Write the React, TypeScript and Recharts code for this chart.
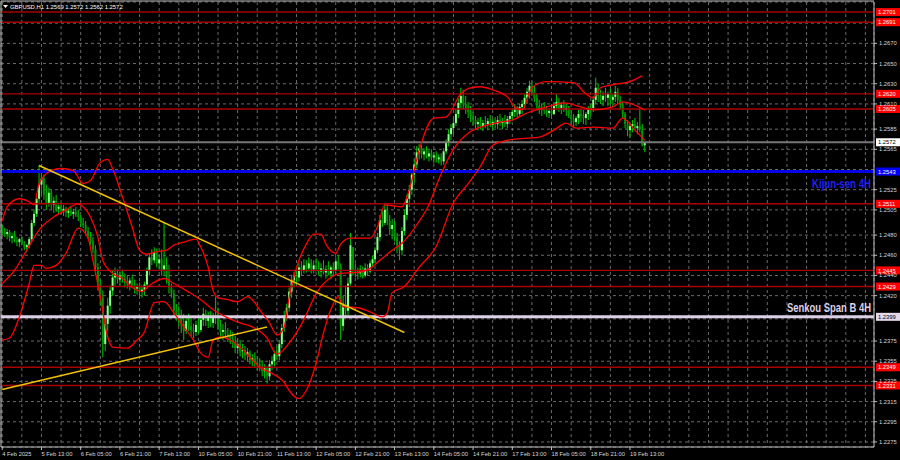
import { ComposedChart, Bar, Line, XAxis, YAxis, CartesianGrid, ReferenceLine } from 'recharts';

// GBPUSD H1, 4 Feb 21:00 .. 19 Feb 19:00, one slot per hour, empty slots on the right
const SLOTS = 356;
const FIRST_OPEN = 1.2488;

const closes = [
  1.2484, 1.2481, 1.2483,
  1.2477, 1.2479, 1.2475, 1.2473, 1.2476, 1.2471, 1.2468, 1.2470, 1.2476, 1.2492, 1.2501, 1.2516, 1.2530, 1.2536, 1.2520, 1.2512, 1.2522, 1.2510, 1.2514, 1.2506, 1.2508, 1.2504, 1.2506, 1.2502,
  1.2504, 1.2501, 1.2503, 1.2500, 1.2498, 1.2492, 1.2490, 1.2484, 1.2479, 1.2474, 1.2466, 1.2448, 1.2432, 1.2418, 1.2372, 1.2392, 1.2410, 1.2425, 1.2438, 1.2442, 1.2436, 1.2440, 1.2437, 1.2434,
  1.2432, 1.2435, 1.2430, 1.2427, 1.2429, 1.2424, 1.2426, 1.2431, 1.2445, 1.2458, 1.2455, 1.2463, 1.2452, 1.2456, 1.2446, 1.2450, 1.2436, 1.2428, 1.2422, 1.2405, 1.2402, 1.2398, 1.2392, 1.2385,
  1.2395, 1.2390, 1.2386, 1.2384, 1.2391, 1.2386, 1.2396, 1.2402, 1.2395, 1.2400, 1.2393, 1.2398, 1.2400, 1.2390, 1.2384, 1.2386, 1.2382, 1.2380, 1.2377, 1.2374, 1.2368, 1.2372, 1.2365, 1.2366,
  1.2361, 1.2364, 1.2356, 1.2358, 1.2354, 1.2352, 1.2350, 1.2345, 1.2348, 1.2340, 1.2352, 1.2355, 1.2362, 1.2360, 1.2372, 1.2388, 1.2400, 1.2408, 1.2424, 1.2435, 1.2440, 1.2438, 1.2448, 1.2445,
  1.2450, 1.2447, 1.2452, 1.2446, 1.2450, 1.2448, 1.2444, 1.2447, 1.2443, 1.2446, 1.2442, 1.2448, 1.2445, 1.2454, 1.2450, 1.2390, 1.2412, 1.2405, 1.2432, 1.2470, 1.2446, 1.2444, 1.2442, 1.2446,
  1.2440, 1.2447, 1.2444, 1.2452, 1.2456, 1.2465, 1.2478, 1.2495, 1.2492, 1.2505, 1.2494, 1.2486, 1.2490, 1.2478, 1.2470, 1.2465, 1.2484, 1.2500, 1.2516, 1.2525, 1.2540, 1.2550, 1.2562, 1.2566,
  1.2560, 1.2563, 1.2558, 1.2561, 1.2557, 1.2559, 1.2555, 1.2557, 1.2553, 1.2563, 1.2572, 1.2580, 1.2586, 1.2591, 1.2600, 1.2611, 1.2618, 1.2610, 1.2606, 1.2602, 1.2598, 1.2594, 1.2590, 1.2592,
  1.2588, 1.2591, 1.2590, 1.2593, 1.2589, 1.2592, 1.2590, 1.2594, 1.2591, 1.2593, 1.2590, 1.2595, 1.2598, 1.2602, 1.2606, 1.2600, 1.2607, 1.2610, 1.2616, 1.2622, 1.2628, 1.2622, 1.2616, 1.2608,
  1.2604, 1.2606, 1.2603, 1.2601, 1.2603, 1.2600, 1.2608, 1.2612, 1.2606, 1.2609, 1.2604, 1.2606, 1.2599, 1.2595, 1.2592, 1.2596, 1.2600, 1.2598, 1.2596, 1.2600, 1.2604, 1.2606, 1.2614, 1.2626,
  1.2618, 1.2614, 1.2618, 1.2616, 1.2620, 1.2614, 1.2617, 1.2622, 1.2614, 1.2610, 1.2600, 1.2590, 1.2584, 1.2588, 1.2590, 1.2586, 1.2588, 1.2585, 1.2569, 1.2572,
];

const highs = [
  1.2490, 1.2487, 1.2486,
  1.2485, 1.2482, 1.2484, 1.2478, 1.2477, 1.2478, 1.2474, 1.2471, 1.2478, 1.2495, 1.2505, 1.2520, 1.2549, 1.2542, 1.2540, 1.2530, 1.2527, 1.2525, 1.2518, 1.2520, 1.2512, 1.2512, 1.2510, 1.2508,
  1.2507, 1.2509, 1.2506, 1.2508, 1.2505, 1.2500, 1.2497, 1.2494, 1.2488, 1.2483, 1.2478, 1.2470, 1.2452, 1.2436, 1.2425, 1.2400, 1.2418, 1.2430, 1.2445, 1.2448, 1.2446, 1.2444, 1.2446, 1.2442,
  1.2440, 1.2438, 1.2441, 1.2436, 1.2432, 1.2433, 1.2430, 1.2434, 1.2448, 1.2462, 1.2466, 1.2468, 1.2467, 1.2460, 1.2466, 1.2492, 1.2458, 1.2450, 1.2432, 1.2426, 1.2412, 1.2410, 1.2406, 1.2402,
  1.2398, 1.2402, 1.2398, 1.2392, 1.2395, 1.2398, 1.2400, 1.2408, 1.2406, 1.2404, 1.2405, 1.2403, 1.2419, 1.2408, 1.2396, 1.2392, 1.2394, 1.2388, 1.2386, 1.2384, 1.2380, 1.2378, 1.2376, 1.2372,
  1.2370, 1.2368, 1.2366, 1.2362, 1.2364, 1.2360, 1.2358, 1.2356, 1.2352, 1.2350, 1.2356, 1.2360, 1.2366, 1.2370, 1.2376, 1.2392, 1.2405, 1.2412, 1.2428, 1.2440, 1.2444, 1.2446, 1.2452, 1.2454,
  1.2456, 1.2455, 1.2458, 1.2456, 1.2455, 1.2457, 1.2454, 1.2452, 1.2455, 1.2450, 1.2454, 1.2450, 1.2453, 1.2458, 1.2460, 1.2452, 1.2420, 1.2430, 1.2438, 1.2482, 1.2468, 1.2452, 1.2448, 1.2450,
  1.2449, 1.2452, 1.2451, 1.2455, 1.2460, 1.2468, 1.2482, 1.2500, 1.2506, 1.2512, 1.2512, 1.2500, 1.2496, 1.2494, 1.2482, 1.2474, 1.2488, 1.2505, 1.2520, 1.2530, 1.2545, 1.2555, 1.2568, 1.2570,
  1.2569, 1.2566, 1.2568, 1.2564, 1.2565, 1.2562, 1.2563, 1.2560, 1.2561, 1.2566, 1.2575, 1.2585, 1.2590, 1.2596, 1.2605, 1.2615, 1.2626, 1.2624, 1.2618, 1.2612, 1.2608, 1.2602, 1.2598, 1.2596,
  1.2597, 1.2594, 1.2598, 1.2596, 1.2599, 1.2595, 1.2597, 1.2598, 1.2600, 1.2596, 1.2599, 1.2598, 1.2602, 1.2606, 1.2610, 1.2608, 1.2610, 1.2614, 1.2620, 1.2626, 1.2633, 1.2632, 1.2628, 1.2620,
  1.2614, 1.2610, 1.2612, 1.2608, 1.2606, 1.2609, 1.2612, 1.2620, 1.2616, 1.2612, 1.2614, 1.2610, 1.2608, 1.2604, 1.2600, 1.2598, 1.2604, 1.2606, 1.2604, 1.2602, 1.2608, 1.2610, 1.2618, 1.2636,
  1.2630, 1.2624, 1.2622, 1.2626, 1.2622, 1.2625, 1.2620, 1.2628, 1.2626, 1.2618, 1.2612, 1.2602, 1.2594, 1.2590, 1.2594, 1.2596, 1.2592, 1.2606, 1.2590, 1.2572,
];

const lows = [
  1.2480, 1.2478, 1.2476,
  1.2474, 1.2472, 1.2473, 1.2469, 1.2468, 1.2470, 1.2465, 1.2463, 1.2467, 1.2474, 1.2489, 1.2498, 1.2512, 1.2520, 1.2515, 1.2505, 1.2508, 1.2505, 1.2502, 1.2503, 1.2500, 1.2501, 1.2499, 1.2498,
  1.2497, 1.2499, 1.2496, 1.2498, 1.2494, 1.2488, 1.2487, 1.2480, 1.2476, 1.2470, 1.2462, 1.2440, 1.2425, 1.2410, 1.2359, 1.2365, 1.2385, 1.2402, 1.2420, 1.2430, 1.2432, 1.2430, 1.2433, 1.2428,
  1.2427, 1.2425, 1.2428, 1.2422, 1.2421, 1.2420, 1.2418, 1.2420, 1.2428, 1.2440, 1.2450, 1.2452, 1.2448, 1.2446, 1.2440, 1.2440, 1.2432, 1.2422, 1.2418, 1.2400, 1.2395, 1.2390, 1.2383, 1.2376,
  1.2382, 1.2385, 1.2380, 1.2378, 1.2380, 1.2382, 1.2384, 1.2390, 1.2390, 1.2388, 1.2389, 1.2388, 1.2392, 1.2386, 1.2378, 1.2376, 1.2378, 1.2374, 1.2372, 1.2368, 1.2363, 1.2362, 1.2360, 1.2358,
  1.2356, 1.2355, 1.2352, 1.2350, 1.2349, 1.2346, 1.2345, 1.2340, 1.2338, 1.2333, 1.2336, 1.2346, 1.2350, 1.2356, 1.2356, 1.2368, 1.2384, 1.2395, 1.2404, 1.2418, 1.2428, 1.2432, 1.2434, 1.2440,
  1.2442, 1.2443, 1.2444, 1.2442, 1.2442, 1.2444, 1.2440, 1.2438, 1.2441, 1.2437, 1.2440, 1.2436, 1.2440, 1.2442, 1.2446, 1.2376, 1.2385, 1.2398, 1.2400, 1.2430, 1.2440, 1.2438, 1.2436, 1.2438,
  1.2437, 1.2438, 1.2440, 1.2442, 1.2448, 1.2452, 1.2462, 1.2474, 1.2488, 1.2490, 1.2490, 1.2480, 1.2476, 1.2474, 1.2462, 1.2455, 1.2460, 1.2480, 1.2495, 1.2508, 1.2520, 1.2532, 1.2546, 1.2555,
  1.2556, 1.2554, 1.2556, 1.2553, 1.2554, 1.2551, 1.2552, 1.2551, 1.2549, 1.2550, 1.2560, 1.2568, 1.2574, 1.2580, 1.2588, 1.2596, 1.2605, 1.2605, 1.2600, 1.2596, 1.2592, 1.2588, 1.2585, 1.2584,
  1.2585, 1.2583, 1.2586, 1.2584, 1.2587, 1.2584, 1.2586, 1.2585, 1.2588, 1.2585, 1.2587, 1.2586, 1.2590, 1.2593, 1.2597, 1.2596, 1.2598, 1.2600, 1.2605, 1.2610, 1.2615, 1.2618, 1.2612, 1.2605,
  1.2600, 1.2598, 1.2600, 1.2597, 1.2596, 1.2598, 1.2599, 1.2604, 1.2602, 1.2600, 1.2602, 1.2598, 1.2596, 1.2590, 1.2587, 1.2588, 1.2590, 1.2592, 1.2590, 1.2589, 1.2594, 1.2598, 1.2602, 1.2610,
  1.2612, 1.2610, 1.2608, 1.2612, 1.2608, 1.2610, 1.2607, 1.2612, 1.2610, 1.2604, 1.2596, 1.2586, 1.2578, 1.2576, 1.2582, 1.2584, 1.2580, 1.2582, 1.2568, 1.2562,
];

// Bollinger bands, read at sparse bars
const upperBars = [0, 2, 7, 11, 13, 15, 20, 24, 29, 33, 36, 40, 43, 45, 49, 53, 56, 59, 62, 67, 70, 74, 79, 81, 84, 86, 88, 92, 96, 100, 102, 105, 109, 112, 115, 117, 121, 124, 127, 130, 132, 136, 138, 142, 150, 153, 156, 163, 166, 170, 176, 181, 187, 191, 195, 200, 206, 209, 212, 216, 222, 233, 238, 241, 244, 249, 256, 261];
const upperBand = [1.2494, 1.2508, 1.2516, 1.2513, 1.2510, 1.2531, 1.2544, 1.2546, 1.2544, 1.2531, 1.2534, 1.2552, 1.2555, 1.2546, 1.2518, 1.2488, 1.2465, 1.2461, 1.2463, 1.2465, 1.2470, 1.2473, 1.2476, 1.2468, 1.2448, 1.2425, 1.2418, 1.2416, 1.2414, 1.2419, 1.2416, 1.2406, 1.2393, 1.2381, 1.2389, 1.2418, 1.2455, 1.2471, 1.2481, 1.2481, 1.2471, 1.2462, 1.2471, 1.2477, 1.2477, 1.2488, 1.2510, 1.2508, 1.2525, 1.2564, 1.2596, 1.2597, 1.2620, 1.2626, 1.2627, 1.2624, 1.2617, 1.2607, 1.2604, 1.2626, 1.2632, 1.2631, 1.2620, 1.2616, 1.2626, 1.2629, 1.2632, 1.2638];

const middleBars = [0, 5, 10, 15, 21, 26, 31, 33, 36, 39, 41, 45, 49, 53, 57, 60, 66, 70, 75, 81, 86, 92, 97, 102, 108, 112, 117, 123, 128, 134, 138, 145, 150, 154, 159, 163, 169, 174, 178, 184, 190, 195, 203, 208, 214, 222, 229, 236, 241, 249, 253, 262];
const middleBand = [1.2432, 1.2445, 1.2465, 1.2485, 1.2498, 1.2505, 1.2511, 1.2508, 1.2498, 1.2478, 1.2455, 1.2442, 1.2437, 1.2428, 1.2424, 1.2430, 1.2437, 1.2432, 1.2425, 1.2416, 1.2406, 1.2398, 1.2393, 1.2389, 1.2378, 1.2362, 1.2373, 1.2396, 1.2422, 1.2438, 1.2442, 1.2443, 1.2447, 1.2455, 1.2465, 1.2472, 1.2490, 1.2510, 1.2535, 1.2565, 1.2581, 1.2587, 1.2592, 1.2594, 1.2601, 1.2607, 1.2611, 1.2607, 1.2604, 1.2607, 1.2612, 1.2604];

const lowerBars = [0, 3, 7, 11, 13, 16, 18, 22, 26, 31, 35, 37, 40, 43, 45, 51, 55, 58, 62, 66, 70, 74, 78, 81, 84, 86, 89, 93, 97, 101, 105, 110, 115, 117, 121, 124, 128, 131, 134, 137, 139, 145, 150, 155, 157, 159, 164, 170, 177, 184, 190, 195, 200, 206, 214, 219, 225, 230, 234, 241, 249, 253, 258, 262];
const lowerBand = [1.2376, 1.2378, 1.2399, 1.2432, 1.2450, 1.2450, 1.2447, 1.2450, 1.2462, 1.2487, 1.2477, 1.2455, 1.2419, 1.2379, 1.2369, 1.2368, 1.2376, 1.2384, 1.2413, 1.2414, 1.2403, 1.2389, 1.2376, 1.2363, 1.2359, 1.2376, 1.2379, 1.2376, 1.2369, 1.2359, 1.2349, 1.2343, 1.2334, 1.2326, 1.2318, 1.2326, 1.2353, 1.2383, 1.2406, 1.2419, 1.2409, 1.2408, 1.2404, 1.2399, 1.2403, 1.2423, 1.2429, 1.2448, 1.2469, 1.2512, 1.2531, 1.2548, 1.2569, 1.2574, 1.2576, 1.2577, 1.2584, 1.2591, 1.2586, 1.2587, 1.2586, 1.2596, 1.2584, 1.2574];

// yellow trend lines: [bar, price] at both ends
const trendFalling = [[15, 1.2549], [164, 1.23835]];
const trendRising = [[0, 1.2327], [108, 1.2389]];

const redLevels = [1.2701, 1.2691, 1.2620, 1.2605, 1.2511, 1.2445, 1.2429, 1.2349, 1.2331];
const kijun = 1.2543;
const senkouB = 1.2399;
const bid = 1.2572;

const priceTicks = [1.2275, 1.2295, 1.2315, 1.2335, 1.2355, 1.2375, 1.2397, 1.242, 1.244, 1.246, 1.248, 1.2505, 1.2525, 1.2545, 1.2565, 1.2585, 1.261, 1.263, 1.265, 1.267, 1.269];
const hiddenTicks = ['1.2397', '1.2545', '1.2690'];

const timeLabels: [number, string][] = [
  [0, '4 Feb 2025'], [16, '5 Feb 13:00'], [32, '6 Feb 05:00'], [48, '6 Feb 21:00'], [64, '7 Feb 13:00'],
  [80, '10 Feb 05:00'], [96, '10 Feb 21:00'], [112, '11 Feb 13:00'], [128, '12 Feb 05:00'], [144, '12 Feb 21:00'],
  [160, '13 Feb 13:00'], [176, '14 Feb 05:00'], [192, '14 Feb 21:00'], [208, '17 Feb 13:00'], [224, '18 Feb 05:00'],
  [240, '18 Feb 21:00'], [256, '19 Feb 13:00'],
];

const FONT = '"Liberation Sans", Arial, sans-serif';
const AXIS_TEXT = '#d6d6d6';
const FRAME = '#c0c0c0';

const rows: any[] = Array.from({ length: SLOTS }, (_, i) => ({ i }));
closes.forEach((c, k) => {
  const o = k === 0 ? FIRST_OPEN : closes[k - 1];
  Object.assign(rows[k], { o, c, h: highs[k], l: lows[k], range: [lows[k], highs[k]] });
});
upperBars.forEach((b, k) => (rows[b].upper = upperBand[k]));
middleBars.forEach((b, k) => (rows[b].middle = middleBand[k]));
lowerBars.forEach((b, k) => (rows[b].lower = lowerBand[k]));
trendFalling.forEach(([b, p]) => (rows[b].trendA = p));
trendRising.forEach(([b, p]) => (rows[b].trendB = p));

const labelAt = new Map(timeLabels);
const gridBars = Array.from({ length: 45 }, (_, k) => k * 8);

function Candle(props: any) {
  const { x, y, width, height, payload } = props;
  if (!payload || payload.h == null) return null;
  const cx = x + width / 2;
  const top = Math.min(y, y + height);
  const bottom = Math.max(y, y + height);
  const hi = Math.max(payload.h, payload.o, payload.c);
  const lo = Math.min(payload.l, payload.o, payload.c);
  const span = hi - lo || 1e-9;
  const py = (v: number) => top + ((hi - v) / span) * (bottom - top);
  const yo = py(payload.o);
  const yc = py(payload.c);
  const up = payload.c >= payload.o;
  return (
    <g>
      <line x1={cx} x2={cx} y1={top} y2={bottom} stroke="#00b800" strokeWidth={1.1} />
      <rect
        x={cx - 1}
        y={Math.min(yo, yc)}
        width={2}
        height={Math.max(0.8, Math.abs(yc - yo))}
        fill={up ? '#8cff8c' : '#009400'}
      />
    </g>
  );
}

function XTick(props: any) {
  const { x, payload } = props;
  const text = labelAt.get(payload.value);
  if (!text) return null;
  return (
    <g>
      <line x1={x} x2={x} y1={447} y2={450} stroke={FRAME} />
      <text x={x} y={455.5} fontFamily={FONT} fontSize={5.8} fill={AXIS_TEXT}>
        {text}
      </text>
    </g>
  );
}

function YTick(props: any) {
  const { y, payload } = props;
  const text = Number(payload.value).toFixed(4);
  if (hiddenTicks.includes(text)) return null;
  return (
    <g>
      <line x1={874} x2={877} y1={y} y2={y} stroke={FRAME} />
      <text x={879} y={y + 2} fontFamily={FONT} fontSize={5.8} fill={AXIS_TEXT}>
        {text}
      </text>
    </g>
  );
}

function PriceTag(props: any) {
  const { viewBox, price, bg, fg, name, nameColor, nameDy, nameLen } = props;
  const y = viewBox?.y ?? 0;
  return (
    <g>
      {name && (
        <g transform={`translate(871 ${y + nameDy}) scale(1 1.3)`}>
          <text
            x={0}
            y={0}
            textAnchor="end"
            fontFamily={FONT}
            fontWeight="bold"
            fontSize={9.4}
            fill={nameColor}
            textLength={nameLen}
            lengthAdjust="spacingAndGlyphs"
          >
            {name}
          </text>
        </g>
      )}
      <rect x={876} y={y - 4} width={24} height={8} fill={bg} />
      <text x={878} y={y + 2.2} fontFamily={FONT} fontSize={5.8} fill={fg}>
        {price.toFixed(4)}
      </text>
    </g>
  );
}

export default function App() {
  return (
    <div style={{ position: 'absolute', left: 0, top: 0, width: 900, height: 460, background: '#000', overflow: 'hidden' }}>
      <ComposedChart width={900} height={460} data={rows} margin={{ top: 2, right: 0, bottom: 0, left: 1 }}>
        <CartesianGrid stroke="#6a6a6a" strokeDasharray="3 3" />
        <XAxis
          dataKey="i"
          type="category"
          ticks={gridBars}
          interval={0}
          height={13}
          tick={<XTick />}
          tickLine={false}
          axisLine={{ stroke: FRAME }}
        />
        <YAxis
          orientation="right"
          type="number"
          domain={[1.227, 1.2711]}
          allowDataOverflow
          ticks={priceTicks}
          interval={0}
          width={26}
          tick={<YTick />}
          tickLine={false}
          axisLine={{ stroke: FRAME }}
        />
        {redLevels.map((p, k) => (
          <ReferenceLine
            key={p}
            y={p}
            stroke={k === 0 ? '#7a0000' : '#a80000'}
            strokeWidth={k === 0 ? 2 : 1.4}
            label={<PriceTag price={p} bg="#ff0000" fg="#ffffff" />}
          />
        ))}
        <ReferenceLine y={bid} stroke="#777777" strokeWidth={2} label={<PriceTag price={bid} bg="#ffffff" fg="#000000" />} />
        <ReferenceLine
          y={kijun}
          stroke="#0000e6"
          strokeWidth={3}
          label={<PriceTag price={kijun} bg="#0000ff" fg="#ffffff" name="Kijun-sen 4H" nameColor="#2222ee" nameDy={16} nameLen={59} />}
        />
        <ReferenceLine
          y={senkouB}
          stroke="#ddd0e6"
          strokeWidth={3}
          label={<PriceTag price={senkouB} bg="#e4d8ec" fg="#000000" name="Senkou Span B 4H" nameColor="#ddd0e6" nameDy={-5} nameLen={84} />}
        />
        <Bar dataKey="range" shape={<Candle />} isAnimationActive={false} />
        <Line dataKey="upper" type="monotone" stroke="#ff0000" strokeWidth={1.3} dot={false} connectNulls isAnimationActive={false} />
        <Line dataKey="middle" type="monotone" stroke="#ff0000" strokeWidth={1.3} dot={false} connectNulls isAnimationActive={false} />
        <Line dataKey="lower" type="monotone" stroke="#ff0000" strokeWidth={1.3} dot={false} connectNulls isAnimationActive={false} />
        <Line dataKey="trendA" type="linear" stroke="#f2c200" strokeWidth={1.5} dot={false} connectNulls isAnimationActive={false} />
        <Line dataKey="trendB" type="linear" stroke="#f2c200" strokeWidth={1.5} dot={false} connectNulls isAnimationActive={false} />
      </ComposedChart>
      <svg width={900} height={460} style={{ position: 'absolute', left: 0, top: 0, pointerEvents: 'none' }}>
        <line x1={1} x2={1} y1={1} y2={447} stroke={FRAME} />
        <line x1={1} x2={874} y1={1} y2={1} stroke={FRAME} />
        <path d="M3,5 L8,5 L5.5,8 Z" fill="#ffffff" />
        <text x={10} y={8.6} fontFamily={FONT} fontSize={5.9} fill="#ffffff">
          GBPUSD,H1  1.2569 1.2572 1.2562 1.2572
        </text>
      </svg>
    </div>
  );
}
